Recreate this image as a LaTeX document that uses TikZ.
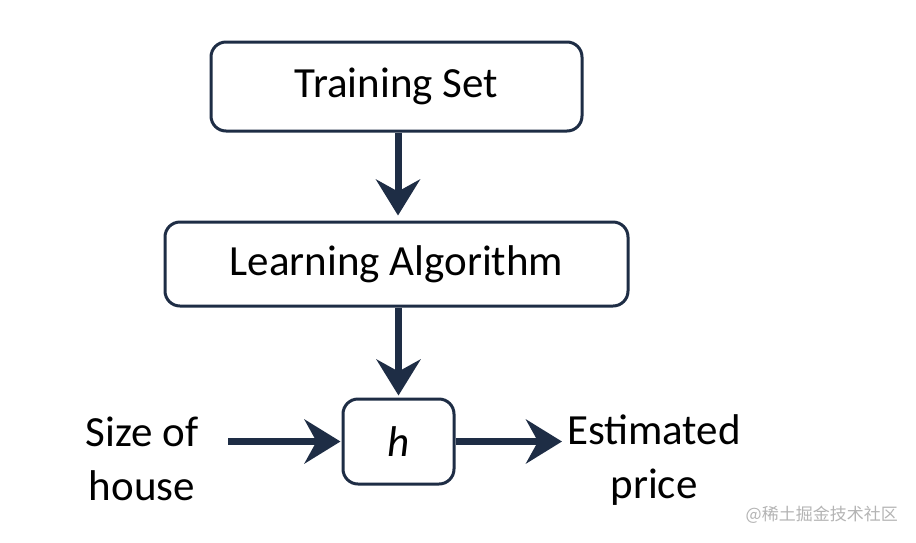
\documentclass[tikz,border=0pt]{standalone}
\usepackage{fontspec}
\setmainfont{Carlito}
\newfontfamily\cjk{Noto Sans CJK SC}
\usetikzlibrary{arrows.meta}
\definecolor{navy}{HTML}{1E2D45}
\definecolor{wm}{HTML}{B4B4B4}
\tikzset{
  box/.style={draw=navy, line width=3pt, rounded corners=15pt, fill=white, inner sep=0pt,
    font=\fontsize{43}{52}\selectfont, text=black},
  lbl/.style={align=center, inner sep=2pt, font=\fontsize{43}{54}\selectfont, text=black},
  arr/.style={draw=navy, line width=7pt, -{Stealth[length=36pt, width=44pt, inset=12pt]}}
}
\begin{document}
\begin{tikzpicture}[x=1pt, y=-1pt]
\useasboundingbox[fill=white] (0,0) rectangle (916,542);
\node[box, minimum width=371pt, minimum height=89pt] (ts) at (396.5,86.5) {\raisebox{-3pt}{Training Set}};
\node[box, minimum width=463pt, minimum height=84pt] (la) at (396.5,264) {\raisebox{-2pt}{Learning Algorithm}};
\node[box, minimum width=111pt, minimum height=85pt] (h) at (398.5,441.5) {\itshape h};
\node[lbl] (size) at (142,459) {Size of\\house};
\node[lbl] (est) at (654,460) {Estimated\\price};
\coordinate (s0) at (228,441.5);
\coordinate (e1) at (562,441.5);
\draw[arr, shorten >=5pt] (ts.south -| 398,0) -- (la.north -| 398,0);
\draw[arr, shorten >=2pt] (la.south -| h.north) -- (h.north);
\draw[arr, shorten >=1pt] (s0) -- (h.west);
\draw[arr] (h.east) -- (e1);
\node[text=wm, font=\cjk\fontsize{17}{20}\selectfont, anchor=east, inner sep=0pt] (wmk) at (898,515) {@稀土掘金技术社区};
\end{tikzpicture}
\end{document}
